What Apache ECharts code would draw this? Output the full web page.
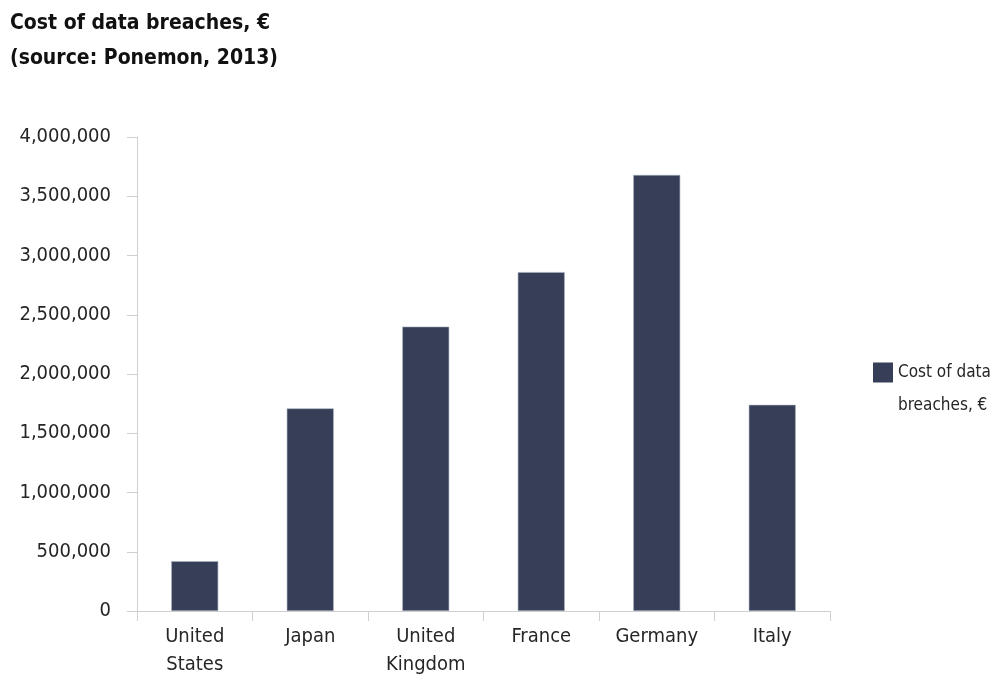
<!DOCTYPE html>
<html>
<head>
<meta charset="utf-8">
<script src="https://cdn.jsdelivr.net/npm/echarts@6/dist/echarts.min.js"></script>
<style>html,body{margin:0;padding:0;background:#fff;}#c{width:999px;height:682px;}</style>
</head>
<body>
<div id="c"></div>
<script>
var categories = ['United\nStates', 'Japan', 'United\nKingdom', 'France', 'Germany', 'Italy'];
var costValues = [420000, 1710000, 2400000, 2860000, 3680000, 1740000];
var seriesName = 'Cost of data breaches, €';
var yTicks = [0, 500000, 1000000, 1500000, 2000000, 2500000, 3000000, 3500000, 4000000];

var FONT = '"DejaVu Sans Condensed", "Liberation Sans Narrow", "Liberation Sans", sans-serif';
var chart = echarts.init(document.getElementById('c'));
chart.setOption({
  animation: false,
  backgroundColor: '#ffffff',
  title: {
    text: 'Cost of data breaches, €\n(source: Ponemon, 2013)',
    left: 5, top: 1,
    textStyle: { fontFamily: FONT, fontSize: 21, fontWeight: 'bold', color: '#111111', lineHeight: 35 }
  },
  legend: {
    orient: 'vertical',
    left: 868, top: 318,
    itemWidth: 20, itemHeight: 20,
    itemGap: 0,
    icon: 'rect',
    itemStyle: { borderWidth: 0 },
    formatter: function () { return ' \nCost of data\nbreaches, €'; },
    textStyle: { fontFamily: FONT, fontSize: 17, color: '#262626', lineHeight: 33 },
    data: [seriesName]
  },
  grid: { left: 137, right: 169, top: 137, bottom: 71, containLabel: false },
  xAxis: {
    type: 'category',
    data: categories,
    boundaryGap: true,
    axisLine: { show: true, lineStyle: { color: '#d0d0d0', width: 1 } },
    axisTick: { show: true, alignWithLabel: false, length: 10, lineStyle: { color: '#d0d0d0' } },
    axisLabel: { fontFamily: FONT, fontSize: 20, color: '#262626', margin: 12, lineHeight: 28, interval: 0 },
    splitLine: { show: false }
  },
  yAxis: {
    type: 'value',
    min: yTicks[0], max: yTicks[yTicks.length - 1], interval: yTicks[1] - yTicks[0],
    axisLine: { show: true, lineStyle: { color: '#d0d0d0', width: 1 } },
    axisTick: { show: true, length: 10, lineStyle: { color: '#d0d0d0' } },
    axisLabel: {
      fontFamily: FONT, fontSize: 20, color: '#262626', margin: 26,
      formatter: function (v) { return v.toLocaleString('en-US'); }
    },
    splitLine: { show: false }
  },
  series: [{
    name: seriesName,
    type: 'bar',
    data: costValues,
    barWidth: 47,
    itemStyle: { color: '#363f57', borderColor: '#aab0c0', borderWidth: 0.6 }
  }]
});
</script>
</body>
</html>
